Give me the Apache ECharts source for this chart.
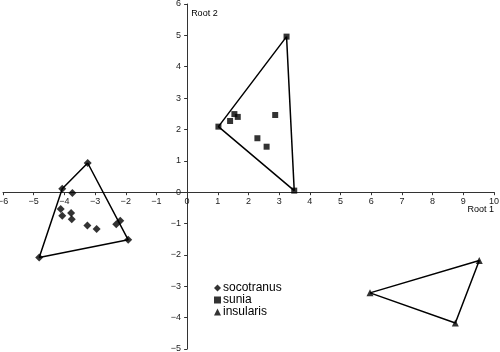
<!DOCTYPE html>
<html>
<head>
<meta charset="utf-8">
<script src="https://cdn.jsdelivr.net/npm/echarts@6/dist/echarts.min.js"></script>
<style>
  html, body { margin: 0; padding: 0; background: #fff; }
  #chart { width: 500px; height: 352px; }
</style>
</head>
<body>
<div id="chart"></div>
<script>
// discriminant scores
const socotranus = [
  [-3.24, 0.93], [-4.07, 0.11], [-4.82, -2.08], [-1.92, -1.52],
  [-3.74, -0.03], [-4.12, -0.54], [-4.07, -0.75], [-3.78, -0.66],
  [-3.76, -0.86], [-3.25, -1.06], [-2.95, -1.17], [-2.31, -1.02],
  [-2.18, -0.91]
]
const sunia = [
  [3.24, 4.96], [1.02, 2.09], [3.49, 0.05], [1.54, 2.49],
  [1.65, 2.40], [1.40, 2.27], [2.87, 2.46], [2.29, 1.72],
  [2.59, 1.45]
]
const insularis = [
  [5.96, -3.21], [9.52, -2.18], [8.74, -4.17]
]
// hull vertices, as indices into each group
const socotranusHull = [0, 3, 2, 1, 0]
const suniaHull = [0, 2, 1, 0]
const insularisHull = [0, 1, 2, 0]

const xRange = [-6, 10]
const yRange = [-5, 6]

const W = 500, H = 352
const grid = { left: 3, right: 6, top: 4, bottom: 3 }
const gw = W - grid.left - grid.right
const gh = H - grid.top - grid.bottom
// shift the axes from the grid edges to cross at the origin
const xOffset = -gh * (0 - yRange[0]) / (yRange[1] - yRange[0])
const yOffset = -gw * (0 - xRange[0]) / (xRange[1] - xRange[0])

const minus = v => String(v).replace('-', '\u2212')

const hull = (pts, idx) => ({
  type: 'line',
  data: idx.map(i => pts[i]),
  symbol: 'none',
  silent: true,
  lineStyle: { color: '#000', width: 1.5 },
  z: 1
})

const dots = (name, pts, symbol, size) => ({
  name: name,
  type: 'scatter',
  data: pts,
  symbol: symbol,
  symbolSize: size,
  itemStyle: { color: '#000' },
  z: 3
})

const chart = echarts.init(document.getElementById('chart'))
chart.setOption({
  animation: false,
  textStyle: { fontFamily: 'Liberation Sans, Arial, sans-serif' },
  grid: Object.assign({ containLabel: false, outerBoundsMode: 'none' }, grid),
  legend: {
    data: ['socotranus', 'sunia', 'insularis'],
    orient: 'vertical',
    left: 214,
    top: 282,
    padding: 0,
    itemGap: 0,
    itemWidth: 7,
    itemHeight: 7,
    textStyle: { fontSize: 12, color: '#000', padding: [0, 0, 0, -3] }
  },
  xAxis: {
    type: 'value',
    min: xRange[0], max: xRange[1], interval: 1,
    position: 'bottom',
    offset: xOffset,
    name: 'Root 1',
    nameLocation: 'end',
    nameGap: 0,
    nameMoveOverlap: false,
    nameTextStyle: { fontSize: 9, color: '#000', align: 'right', verticalAlign: 'top', padding: [13, 0, 0, 0] },
    axisLine: { onZero: false, lineStyle: { color: '#333', width: 1 } },
    axisTick: { show: true, length: 3, lineStyle: { color: '#333' } },
    axisLabel: { show: true, fontSize: 9, color: '#222', margin: 5, formatter: minus },
    splitLine: { show: false }
  },
  yAxis: {
    type: 'value',
    min: yRange[0], max: yRange[1], interval: 1,
    position: 'left',
    offset: yOffset,
    name: 'Root 2',
    nameLocation: 'end',
    nameGap: -14,
    nameMoveOverlap: false,
    nameTextStyle: { fontSize: 9, color: '#000', align: 'left', verticalAlign: 'bottom', padding: [0, 0, 0, 4] },
    axisLine: { onZero: false, lineStyle: { color: '#333', width: 1 } },
    axisTick: { show: true, length: 3, lineStyle: { color: '#333' } },
    axisLabel: { show: true, fontSize: 9, color: '#222', margin: 6, formatter: minus },
    splitLine: { show: false }
  },
  series: [
    hull(socotranus, socotranusHull),
    hull(sunia, suniaHull),
    hull(insularis, insularisHull),
    dots('socotranus', socotranus, 'diamond', 8),
    dots('sunia', sunia, 'rect', 6),
    dots('insularis', insularis, 'triangle', 7)
  ]
})
</script>
</body>
</html>
